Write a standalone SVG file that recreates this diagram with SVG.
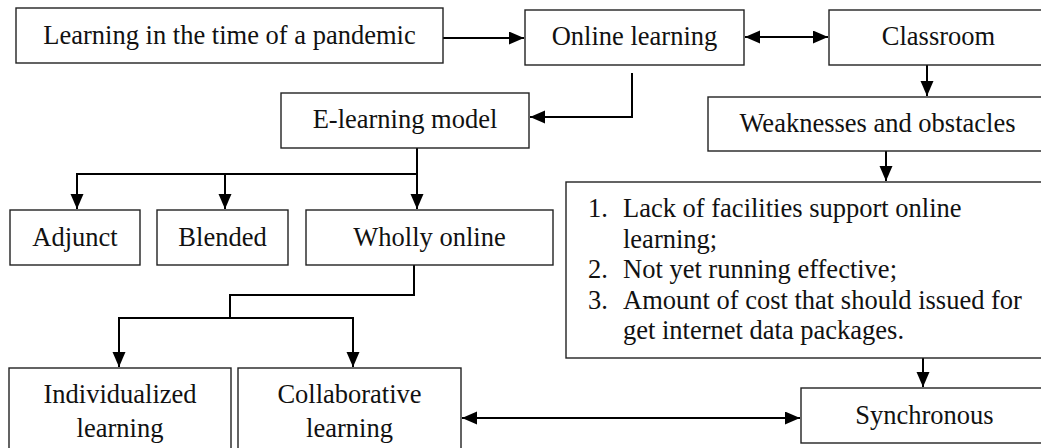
<svg xmlns="http://www.w3.org/2000/svg" width="1041" height="448" viewBox="0 0 1041 448">
<style>
.box{fill:#fff;stroke:#222;stroke-width:1.4}
.t{font-size:26.5px;fill:#111}
.c{text-anchor:middle}
.ln{fill:none;stroke:#000;stroke-width:2}
</style>
<defs>
<marker id="ah" markerUnits="userSpaceOnUse" markerWidth="16" markerHeight="14" refX="15" refY="6.5" orient="auto-start-reverse">
<path d="M0,0 L15,6.5 L0,13 z" fill="#000"/>
</marker>
</defs>
<rect width="1041" height="448" fill="#fff"/>
<g id="connectors">
<path class="ln" d="M443,38 H524" marker-end="url(#ah)"/>
<path class="ln" d="M745,37 H828" marker-start="url(#ah)" marker-end="url(#ah)"/>
<path class="ln" d="M927,65 V96" marker-end="url(#ah)"/>
<path class="ln" d="M632,73 V117 H530" marker-end="url(#ah)"/>
<path class="ln" d="M886,151 V181" marker-end="url(#ah)"/>
<path class="ln" d="M417,148 V209" marker-end="url(#ah)"/>
<path class="ln" d="M417,174 H77 V209" marker-end="url(#ah)"/>
<path class="ln" d="M225,174 V209" marker-end="url(#ah)"/>
<path class="ln" d="M414,265 V295 H230 V318 H119 V367" marker-end="url(#ah)"/>
<path class="ln" d="M230,318 H353 V367" marker-end="url(#ah)"/>
<path class="ln" d="M923,358 V387" marker-end="url(#ah)"/>
<path class="ln" d="M462,418 H800" marker-start="url(#ah)" marker-end="url(#ah)"/>
</g>
<g font-family="Liberation Serif, DejaVu Serif, serif">
<g id="pandemic"><rect class="box" x="16" y="8" width="427" height="55"/><text class="t c" x="229.5" y="44">Learning in the time of a pandemic</text></g>
<g id="online"><rect class="box" x="525" y="10" width="219" height="55"/><text class="t c" x="634.5" y="45">Online learning</text></g>
<g id="classroom"><rect class="box" x="829" y="10" width="222" height="55"/><text class="t c" x="938.5" y="45">Classroom</text></g>
<g id="elearning"><rect class="box" x="281" y="93" width="248" height="55"/><text class="t c" x="405" y="128">E-learning model</text></g>
<g id="weaknesses"><rect class="box" x="708" y="97" width="343" height="54"/><text class="t c" x="877.5" y="132">Weaknesses and obstacles</text></g>
<g id="adjunct"><rect class="box" x="10" y="210" width="130" height="55"/><text class="t c" x="75" y="246">Adjunct</text></g>
<g id="blended"><rect class="box" x="157" y="210" width="131" height="55"/><text class="t c" x="222.5" y="246">Blended</text></g>
<g id="wholly"><rect class="box" x="306" y="210" width="247" height="55"/><text class="t c" x="429.5" y="246">Wholly online</text></g>
<g id="list"><rect class="box" x="566" y="182" width="485" height="176"/>
<text class="t" x="588" y="217">1.</text><text class="t" x="623" y="217">Lack of facilities support online</text>
<text class="t" x="623" y="247.5">learning;</text>
<text class="t" x="588" y="278">2.</text><text class="t" x="623" y="278">Not yet running effective;</text>
<text class="t" x="588" y="308.5">3.</text><text class="t" x="623" y="308.5">Amount of cost that should issued for</text>
<text class="t" x="623" y="339">get internet data packages.</text>
</g>
<g id="individualized"><rect class="box" x="9" y="368" width="222" height="95"/><text class="t c" x="120" y="403">Individualized</text><text class="t c" x="120" y="437">learning</text></g>
<g id="collaborative"><rect class="box" x="238" y="368" width="223" height="95"/><text class="t c" x="349.5" y="403">Collaborative</text><text class="t c" x="349.5" y="437">learning</text></g>
<g id="synchronous"><rect class="box" x="801" y="388" width="250" height="55"/><text class="t c" x="924.5" y="424">Synchronous</text></g>
</g>
</svg>
